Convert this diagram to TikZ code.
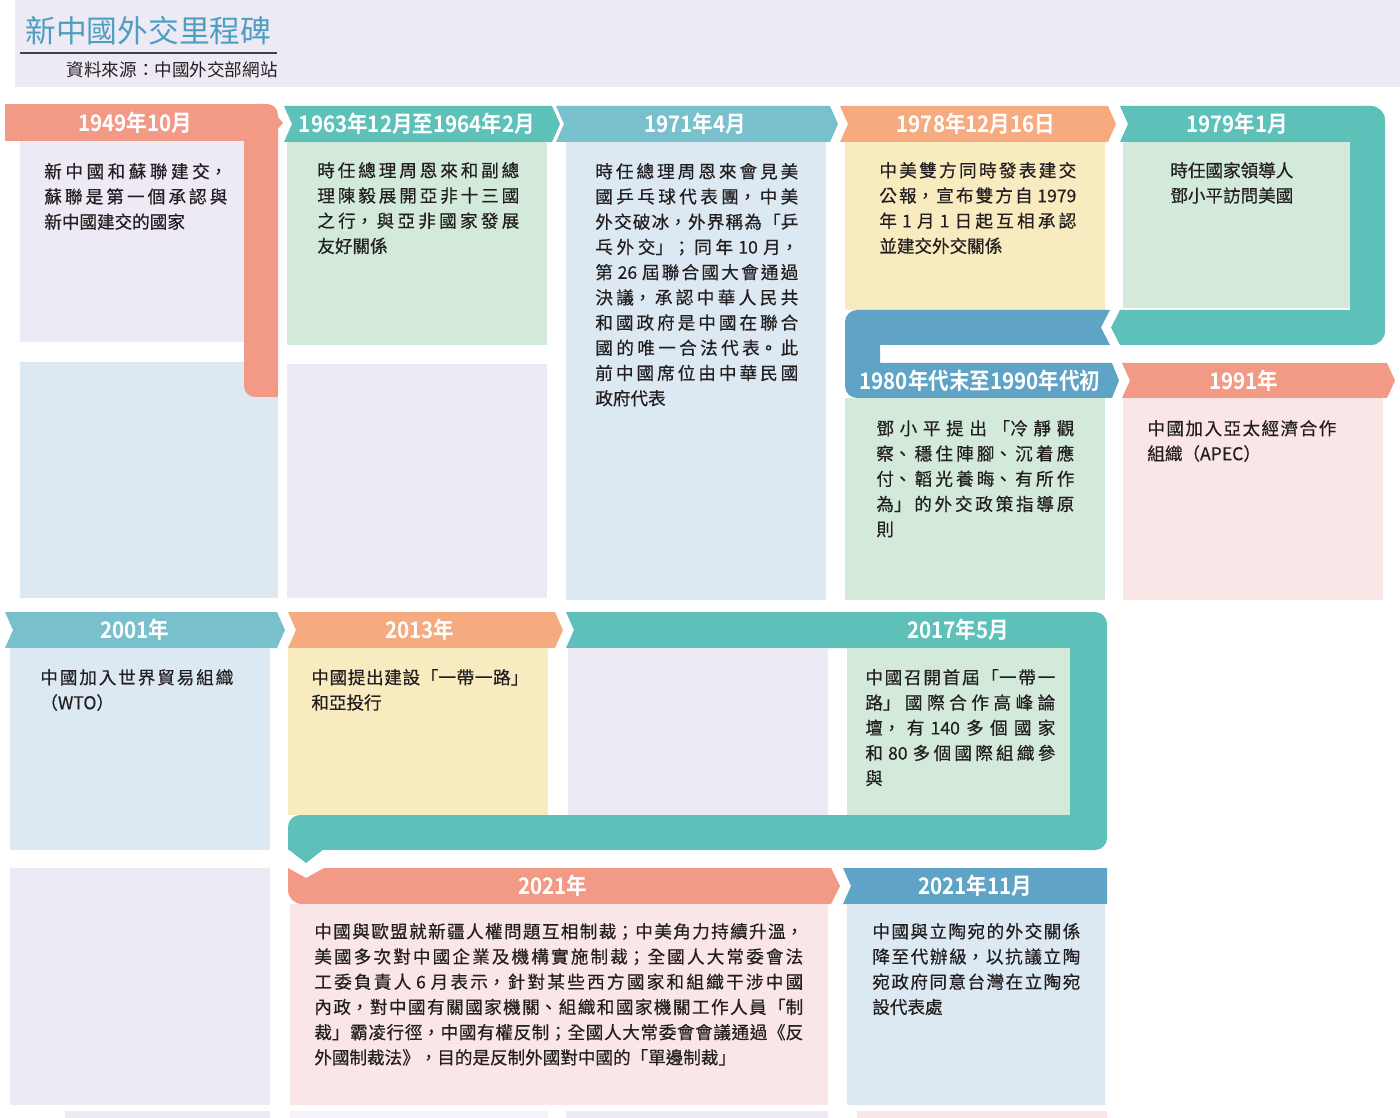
\documentclass[tikz,border=0pt]{standalone}
\usepackage{fontspec}
\setmainfont{Noto Sans CJK TC}
\newfontfamily\cjkfont[FakeBold=0.5]{Noto Sans CJK TC}
\newfontfamily\titlefont{Noto Sans CJK TC}
\newfontfamily\bannerfont[FakeStretch=0.9]{Noto Sans CJK TC Bold}
\XeTeXlinebreaklocale "zh"
\XeTeXlinebreakskip=0pt plus 3pt
\tolerance=5000

\definecolor{bandsalmon}{HTML}{F29A85}
\definecolor{bandteal}{HTML}{5DC0B9}
\definecolor{bandaqua}{HTML}{78C0CB}
\definecolor{bandpeach}{HTML}{F5AA7F}
\definecolor{bandblue}{HTML}{5FA3C6}
\definecolor{boxlav}{HTML}{EEEAF5}
\definecolor{boxblue}{HTML}{DCE9F2}
\definecolor{boxgreen}{HTML}{D3EADA}
\definecolor{boxyellow}{HTML}{F9EBC0}
\definecolor{boxpink}{HTML}{FBE6E7}
\definecolor{titleblue}{HTML}{4E9EC2}
\definecolor{inkgray}{HTML}{231F20}

% chevron banner: (left notch x : right tip x : top y : bottom y)
\def\banner[#1](#2:#3:#4:#5){\fill[#1] (#2,#4) -- ({#3-8},#4) -- (#3,{(#4+#5)/2}) -- ({#3-8},#5) -- (#2,#5) -- ({#2+8},{(#4+#5)/2}) -- cycle;}

\tikzset{
  bodytext/.style={anchor=base west, inner sep=0pt, text width=#1, align=justify,
    font=\cjkfont\fontsize{10pt}{14.35pt}\selectfont, text=inkgray},
  plaintext/.style={anchor=base west, inner sep=0pt, text width=#1, align=left,
    font=\cjkfont\fontsize{10pt}{14.35pt}\selectfont, text=inkgray},
  yeartext/.style={inner sep=0pt, text=white, font=\bannerfont\fontsize{13pt}{15pt}\selectfont},
}

\begin{document}
\begin{tikzpicture}[x=0.02cm, y=-0.02cm]
  %%%%% START %%%%%
  \useasboundingbox (0,0) rectangle (1400,1118);

  % header
  \fill[boxlav] (15,0) rectangle (1400,87);
  \node[anchor=west, inner sep=0pt, text=titleblue, font=\titlefont\fontsize{17.5pt}{20pt}\selectfont] (title) at (25,31) {新中國外交里程碑};
  \draw[inkgray!85, line width=0.6pt] (20,53) -- (277,53);
  \node[anchor=east, inner sep=0pt, text=inkgray, font=\titlefont\fontsize{10pt}{12pt}\selectfont] (source) at (278,70) {資料來源：中國外交部網站};

  % row 1
  \fill[boxlav] (20,141) rectangle (244,342);
  \fill[boxblue] (20,362) rectangle (278,598);
  \fill[bandsalmon] (5,104) rectangle (262,141);
  \fill[bandsalmon, rounded corners=0.22cm] (244,104) rectangle (278,397);
  \fill[bandsalmon] (262,370) rectangle (278,397);
  \fill[bandsalmon] (277,116) -- (283,123) -- (277,130) -- cycle;

  \banner[bandteal](284:560:106:142)
  \fill[boxgreen] (287,142) rectangle (547,345);
  \fill[boxlav] (287,364) rectangle (547,598);

  \banner[bandaqua](556:838:106:142)
  \fill[boxblue] (566,142) rectangle (826,600);

  \banner[bandpeach](840:1116:106:142)
  \fill[boxyellow] (845,142) rectangle (1105,310);

  \fill[bandteal] (1120,106) -- (1370,106) -- (1370,142) -- (1120,142) -- (1128,124) -- cycle;
  \fill[bandteal, rounded corners=0.28cm] (1350,106) rectangle (1385,345);
  \fill[bandteal] (1120,310) -- (1370,310) -- (1370,345) -- (1120,345) -- (1111,327.5) -- cycle;
  \fill[boxgreen] (1123,142) rectangle (1350,308);

  % row 2
  \fill[bandblue, rounded corners=0.24cm] (845,310) rectangle (880,398);
  \fill[bandblue] (862,310) -- (1110,310) -- (1101,327.5) -- (1110,345) -- (862,345) -- cycle;
  \fill[bandblue] (862,363) -- (1112,363) -- (1119,380.5) -- (1112,398) -- (862,398) -- cycle;
  \fill[boxgreen] (845,398) rectangle (1105,600);

  \banner[bandsalmon](1122:1395:363:398)
  \fill[boxpink] (1123,398) rectangle (1383,600);

  % row 3
  \banner[bandaqua](5:285:612:648)
  \fill[boxblue] (10,648) rectangle (270,850);
  \fill[boxlav] (10,868) rectangle (270,1105);

  \banner[bandpeach](288:563:612:648)
  \fill[boxyellow] (288,648) rectangle (548,815);

  \fill[bandteal] (566,612) -- (1090,612) -- (1090,648) -- (566,648) -- (574,630) -- cycle;
  \fill[bandteal, rounded corners=0.24cm] (1070,612) rectangle (1107,850);
  \fill[bandteal, rounded corners=0.24cm] (288,815) rectangle (330,850);
  \fill[bandteal] (288,832) rectangle (330,850);
  \fill[bandteal] (310,815) rectangle (1090,850);
  \fill[bandteal] (288,849) -- (306,863) -- (324,849) -- cycle;
  \fill[boxlav] (568,648) rectangle (828,815);
  \fill[boxgreen] (847,648) rectangle (1070,815);

  % row 4
  \fill[bandsalmon] (288,868) -- (306,878) -- (324,868) -- (831,868) -- (840,886) -- (831,904)
    -- (302,904) arc[start angle=90, end angle=180, radius=14] -- cycle;
  \fill[boxpink] (290,904) rectangle (828,1105);

  \fill[bandblue] (843,868) -- (1107,868) -- (1107,904) -- (843,904) -- (851,886) -- cycle;
  \fill[boxblue] (847,904) rectangle (1105,1105);

  % cut-off strips at the foot
  \fill[boxlav] (65,1111) rectangle (270,1118);
  \fill[boxlav!60] (290,1111) rectangle (548,1118);
  \fill[boxlav] (566,1111) rectangle (828,1118);
  \fill[boxpink] (857,1111) rectangle (1107,1118);

  % years
  \node[yeartext] (y1949) at (135,123) {1949年10月};
  \node[yeartext] (y1963) at (417,124) {1963年12月至1964年2月};
  \node[yeartext] (y1971) at (695,124) {1971年4月};
  \node[yeartext] (y1978) at (976,124) {1978年12月16日};
  \node[yeartext] (y1979) at (1237,124) {1979年1月};
  \node[yeartext] (y1980) at (980,381) {1980年代末至1990年代初};
  \node[yeartext] (y1991) at (1244,381) {1991年};
  \node[yeartext] (y2001) at (135,630) {2001年};
  \node[yeartext] (y2013) at (420,630) {2013年};
  \node[yeartext] (y2017) at (958,630) {2017年5月};
  \node[yeartext] (y2021) at (553,886) {2021年};
  \node[yeartext] (y2111) at (975,886) {2021年11月};

  % notes
  \node[bodytext=3.66cm] (n1949) at (44,178) {新中國和蘇聯建交，\linebreak 蘇聯是第一個承認與\linebreak 新中國建交的國家};
  \node[bodytext=4.04cm] (n1963) at (317,177) {時任總理周恩來和副總\linebreak 理陳毅展開亞非十三國\linebreak 之行，與亞非國家發展\linebreak 友好關係};
  \node[bodytext=4.06cm] (n1971) at (595,178) {時任總理周恩來會見美\linebreak 國乒乓球代表團，中美\linebreak 外交破冰，外界稱為「乒\linebreak 乓外交」；同年 10 月，\linebreak 第 26 屆聯合國大會通過\linebreak 決議，承認中華人民共\linebreak 和國政府是中國在聯合\linebreak 國的唯一合法代表。此\linebreak 前中國席位由中華民國\linebreak 政府代表};
  \node[bodytext=3.94cm] (n1978) at (879,177) {中美雙方同時發表建交\linebreak 公報，宣布雙方自 1979\linebreak 年 1 月 1 日起互相承認\linebreak 並建交外交關係};
  \node[plaintext=3.2cm] (n1979) at (1170,177) {時任國家領導人\\鄧小平訪問美國};
  \node[bodytext=3.96cm] (n1980) at (876,435) {鄧小平提出「冷靜觀\linebreak 察、穩住陣腳、沉着應\linebreak 付、韜光養晦、有所作\linebreak 為」的外交政策指導原\linebreak 則};
  \node[bodytext=3.78cm] (n1991) at (1147,435) {中國加入亞太經濟合作\linebreak 組織（APEC）};
  \node[bodytext=3.86cm] (n2001) at (40,684) {中國加入世界貿易組織\linebreak （WTO）};
  \node[bodytext=4.34cm] (n2013) at (311,684) {中國提出建設「一帶一路」\linebreak 和亞投行};
  \node[bodytext=3.8cm] (n2017) at (865,684) {中國召開首屆「一帶一\linebreak 路」國際合作高峰論\linebreak 壇，有 140 多個國家\linebreak 和 80 多個國際組織參\linebreak 與};
  \node[bodytext=9.78cm] (n2021) at (314,938) {中國與歐盟就新疆人權問題互相制裁；中美角力持續升溫，\linebreak 美國多次對中國企業及機構實施制裁；全國人大常委會法\linebreak 工委負責人 6 月表示，針對某些西方國家和組織干涉中國\linebreak 內政，對中國有關國家機關、組織和國家機關工作人員「制\linebreak 裁」霸凌行徑，中國有權反制；全國人大常委會會議通過《反\linebreak 外國制裁法》，目的是反制外國對中國的「單邊制裁」};
  \node[bodytext=4.16cm] (n2111) at (872,938) {中國與立陶宛的外交關係\linebreak 降至代辦級，以抗議立陶\linebreak 宛政府同意台灣在立陶宛\linebreak 設代表處};
  %%%%% END %%%%%
\end{tikzpicture}
\end{document}
